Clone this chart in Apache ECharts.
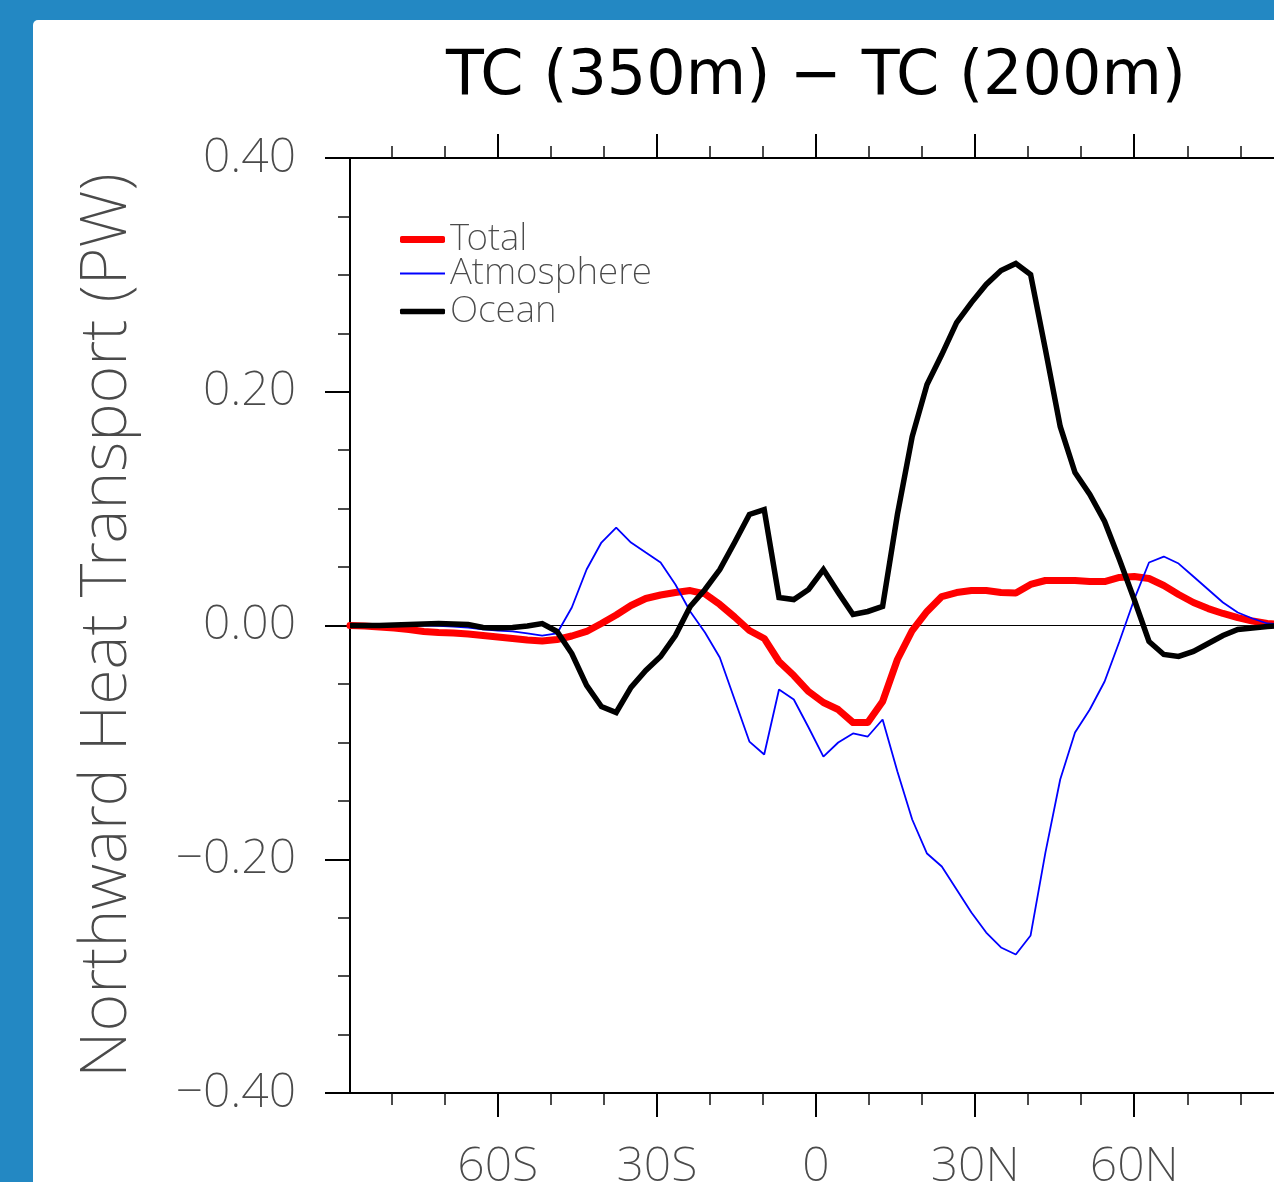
<!DOCTYPE html>
<html>
<head>
<meta charset="utf-8">
<title>TC (350m) − TC (200m)</title>
<script src="https://cdn.jsdelivr.net/npm/echarts@6/dist/echarts.min.js"></script>
<style>
  html, body { margin: 0; padding: 0; width: 1274px; height: 1182px; overflow: hidden; background: #2388c3; }
  #panel { position: absolute; left: 33px; top: 20px; width: 1270px; height: 1190px; background: #ffffff; border-radius: 5px; }
  #chart { position: absolute; left: 0; top: 0; width: 1290px; height: 1182px; }
</style>
</head>
<body>
<div id="panel"></div>
<div id="chart"></div>
<script>
// Gaussian latitudes (T42 grid), south to north
const latitudes = [
  -87.8638, -85.0965, -82.3129, -79.5256, -76.7369, -73.9475, -71.1578, -68.3678,
  -65.5776, -62.7874, -59.9970, -57.2066, -54.4162, -51.6257, -48.8352, -46.0447,
  -43.2542, -40.4636, -37.6731, -34.8825, -32.0920, -29.3014, -26.5108, -23.7202,
  -20.9296, -18.1390, -15.3484, -12.5578, -9.7671, -6.9765, -4.1859, -1.3953,
  1.3953, 4.1859, 6.9765, 9.7671, 12.5578, 15.3484, 18.1390, 20.9296,
  23.7202, 26.5108, 29.3014, 32.0920, 34.8825, 37.6731, 40.4636, 43.2542,
  46.0447, 48.8352, 51.6257, 54.4162, 57.2066, 59.9970, 62.7874, 65.5776,
  68.3678, 71.1578, 73.9475, 76.7369, 79.5256, 82.3129, 85.0965, 87.8638
];

// Northward heat transport difference (PW)
const total = [
  0, -0.0004, -0.0013, -0.0021, -0.0034, -0.0051, -0.0060, -0.0064, -0.0073, -0.0086,
  -0.0098, -0.0111, -0.0124, -0.0133, -0.0120, -0.0090, -0.0051, 0.0017, 0.0090, 0.0171,
  0.0231, 0.0261, 0.0282, 0.0299, 0.0270, 0.0180, 0.0073, -0.0043, -0.0111, -0.0308,
  -0.0428, -0.0565, -0.0659, -0.0719, -0.0830, -0.0830, -0.0650, -0.0291, -0.0043, 0.0120,
  0.0248, 0.0282, 0.0299, 0.0299, 0.0282, 0.0278, 0.0351, 0.0385, 0.0385, 0.0385,
  0.0376, 0.0376, 0.0411, 0.0419, 0.0402, 0.0342, 0.0265, 0.0197, 0.0145, 0.0103,
  0.0068, 0.0038, 0.0017, 0.0009
];
const atmosphere = [
  0, 0, 0, 0, 0, 0, -0.0004, -0.0009, -0.0017, -0.0034,
  -0.0043, -0.0051, -0.0068, -0.0086, -0.0068, 0.0154, 0.0479, 0.0710, 0.0838, 0.0710,
  0.0624, 0.0539, 0.0351, 0.0120, -0.0060, -0.0274, -0.0633, -0.0993, -0.1104, -0.0548,
  -0.0633, -0.0873, -0.1122, -0.1001, -0.0924, -0.0950, -0.0804, -0.1249, -0.1660, -0.1951,
  -0.2062, -0.2259, -0.2456, -0.2627, -0.2755, -0.2815, -0.2652, -0.1943, -0.1318, -0.0916,
  -0.0719, -0.0479, -0.0137, 0.0223, 0.0539, 0.0590, 0.0530, 0.0419, 0.0308, 0.0197,
  0.0111, 0.0060, 0.0017, 0.0009
];
const ocean = [
  0, 0, 0, 0.0004, 0.0009, 0.0013, 0.0017, 0.0013, 0.0009, -0.0017,
  -0.0021, -0.0017, -0.0004, 0.0017, -0.0051, -0.0240, -0.0513, -0.0693, -0.0744, -0.0530,
  -0.0385, -0.0265, -0.0086, 0.0163, 0.0308, 0.0479, 0.0710, 0.0950, 0.0992, 0.0240,
  0.0222, 0.0308, 0.0479, 0.0282, 0.0094, 0.0120, 0.0163, 0.0950, 0.1617, 0.2062,
  0.2318, 0.2592, 0.2763, 0.2918, 0.3037, 0.3097, 0.3003, 0.2361, 0.1703, 0.1309,
  0.1121, 0.0890, 0.0565, 0.0222, -0.0137, -0.0248, -0.0265, -0.0222, -0.0154, -0.0086,
  -0.0034, -0.0021, -0.0009, 0
];

// Axis ticks
const majorLatTicks = [-60, -30, 0, 30, 60];
const minorLatTicks = [-80, -70, -50, -40, -20, -10, 10, 20, 40, 50, 70, 80];

const titleText = 'TC (350m) \u2212 TC (200m)';
const yAxisTitle = 'Northward Heat Transport (PW)';
const seriesNames = ['Total', 'Atmosphere', 'Ocean'];
const seriesColors = ['#ff0000', '#0000ff', '#000000'];
const seriesWidths = [7, 1.8, 5.5];

const FONT = "'DejaVu Sans', 'Liberation Sans', sans-serif";
const THIN_FONT = "'Noto Sans', 'Lato', 'Roboto', sans-serif";
const LABEL_COLOR = '#4a4a4a';

function latLabel(v) {
  if (Math.abs(v) < 1e-9) return '0';
  return Math.abs(Math.round(v)) + (v < 0 ? 'S' : 'N');
}
function pwLabel(v) {
  const r = Math.round(v * 100) / 100;
  return (r < 0 ? '\u2212' : '') + Math.abs(r).toFixed(2);
}
function pairs(values) {
  return latitudes.map((lat, i) => [lat, values[i]]);
}

const chart = echarts.init(document.getElementById('chart'), null, { renderer: 'canvas' });

const xBase = {
  type: 'value',
  gridIndex: 0,
  min: latitudes[0],
  max: latitudes[latitudes.length - 1],
  splitLine: { show: false }
};
const frameLine = { show: true, onZero: false, lineStyle: { color: '#000', width: 2 } };
const hiddenLine = { show: false, onZero: false };
const majorTickStyle = { color: '#000', width: 2 };
const minorTickStyle = { color: '#111', width: 1.5 };

const legendTops = [221, 255, 293];
const legendText = { fontSize: 37, fontFamily: THIN_FONT, fontWeight: 200, color: LABEL_COLOR, lineHeight: 34 };
const tickText = { fontSize: 48, fontFamily: THIN_FONT, fontWeight: 200, color: LABEL_COLOR };

const option = {
  animation: false,
  backgroundColor: 'transparent',
  grid: { left: 350, top: 158, right: 8, bottom: 89, containLabel: false, outerBoundsMode: 'none' },
  graphic: [{
    type: 'text',
    x: 816,
    y: 78,
    style: {
      text: titleText,
      align: 'center',
      verticalAlign: 'middle',
      fontSize: 62,
      fontFamily: FONT,
      fill: '#000'
    }
  }],
  legend: seriesNames.map((name, i) => ({
    data: [{ name: name, icon: i === 1 ? 'rect' : 'roundRect' }],
    left: 400,
    top: legendTops[i],
    orient: 'vertical',
    padding: 0,
    itemWidth: 45,
    itemHeight: seriesWidths[i],
    selectedMode: false,
    textStyle: legendText
  })),
  xAxis: [
    Object.assign({}, xBase, {
      position: 'bottom',
      axisLine: frameLine,
      axisTick: { show: true, customValues: majorLatTicks, length: 24, lineStyle: majorTickStyle },
      axisLabel: Object.assign({ show: true, customValues: majorLatTicks, formatter: latLabel, margin: 50 }, tickText)
    }),
    Object.assign({}, xBase, {
      position: 'bottom',
      axisLine: hiddenLine,
      axisTick: { show: true, customValues: minorLatTicks, length: 12, lineStyle: minorTickStyle },
      axisLabel: { show: false }
    }),
    Object.assign({}, xBase, {
      position: 'top',
      axisLine: frameLine,
      axisTick: { show: true, customValues: majorLatTicks, length: 24, lineStyle: majorTickStyle },
      axisLabel: { show: false }
    }),
    Object.assign({}, xBase, {
      position: 'top',
      axisLine: hiddenLine,
      axisTick: { show: true, customValues: minorLatTicks, length: 12, lineStyle: minorTickStyle },
      axisLabel: { show: false }
    })
  ],
  yAxis: [
    {
      type: 'value',
      position: 'left',
      min: -0.4,
      max: 0.4,
      interval: 0.2,
      name: yAxisTitle,
      nameLocation: 'middle',
      nameRotate: 90,
      nameGap: 210,
      nameTextStyle: { fontSize: 65, fontFamily: THIN_FONT, fontWeight: 200, color: LABEL_COLOR },
      axisLine: frameLine,
      axisTick: { show: true, length: 25, lineStyle: majorTickStyle },
      minorTick: { show: true, splitNumber: 4, length: 12, lineStyle: minorTickStyle },
      axisLabel: Object.assign({ margin: 54, formatter: pwLabel }, tickText),
      splitLine: { show: false }
    },
    {
      // right frame edge plus the zero reference line
      type: 'value',
      position: 'right',
      min: -0.4,
      max: 0.4,
      interval: 0.4,
      axisLine: frameLine,
      axisTick: { show: false },
      axisLabel: { show: false },
      splitLine: { show: true, lineStyle: { color: '#000', width: 1 } }
    }
  ],
  series: [
    {
      name: 'Total', type: 'line', xAxisIndex: 0, yAxisIndex: 0,
      data: pairs(total), symbol: 'none', color: seriesColors[0],
      lineStyle: { color: seriesColors[0], width: seriesWidths[0], join: 'round', cap: 'round' }
    },
    {
      name: 'Atmosphere', type: 'line', xAxisIndex: 0, yAxisIndex: 0,
      data: pairs(atmosphere), symbol: 'none', color: seriesColors[1],
      lineStyle: { color: seriesColors[1], width: seriesWidths[1] }
    },
    {
      name: 'Ocean', type: 'line', xAxisIndex: 0, yAxisIndex: 0,
      data: pairs(ocean), symbol: 'none', color: seriesColors[2],
      lineStyle: { color: seriesColors[2], width: seriesWidths[2], join: 'miter' }
    }
  ]
};

chart.setOption(option);
</script>
</body>
</html>
